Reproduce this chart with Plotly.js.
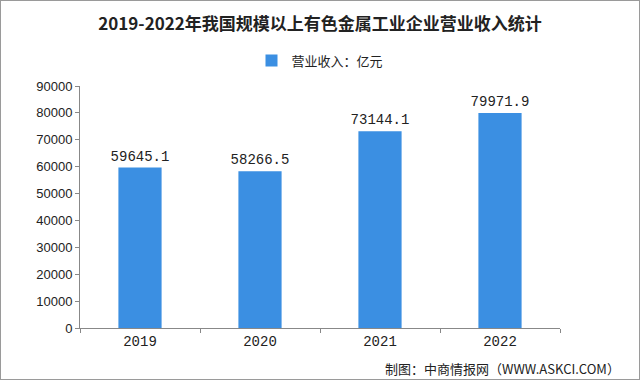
<!DOCTYPE html>
<html><head><meta charset="utf-8">
<script src="https://cdn.plot.ly/plotly-3.0.1.min.js"></script>
<style>html,body{margin:0;padding:0;background:#fff}#chart{width:640px;height:380px;box-sizing:border-box;border:1px solid #9a9a9a}</style>
</head><body><div id="chart"></div>
<script>
const years = ['2019', '2020', '2021', '2022'];
const revenue = [59645.1, 58266.5, 73144.1, 79971.9];
const seriesName = '营业收入：亿元';
const titleText = '2019-2022年我国规模以上有色金属工业企业营业收入统计';
const sourceText = '制图：中商情报网（WWW.ASKCI.COM）';

const trace = {
  type: 'bar', x: years, y: revenue, name: seriesName,
  marker: {color: '#3b8fe2'},
  text: revenue.map(v => v.toFixed(1)), textposition: 'outside', constraintext: 'none',
  textfont: {family: 'Liberation Mono', size: 14, color: '#222'},
  cliponaxis: false
};
const layout = {
  width: 638, height: 378,
  margin: {l: 79, r: 79, t: 85, b: 51},
  paper_bgcolor: '#fff', plot_bgcolor: '#fff',
  title: {text: titleText, x: 0.5, xanchor: 'center', y: 0.94, yanchor: 'middle',
    font: {family: 'Noto Sans CJK SC', size: 17, color: '#222', weight: 'bold'}},
  showlegend: true,
  legend: {orientation: 'h', x: 0.5, xanchor: 'center', y: 1.105, yanchor: 'middle',
    font: {family: 'Noto Sans CJK SC', size: 13, color: '#222'}, itemwidth: 30},
  bargap: 0.64,
  xaxis: {type: 'category', showline: true, linecolor: '#888', ticks: 'outside', ticklen: 4, tickcolor: '#888',
    tickson: 'boundaries', showgrid: false,
    tickfont: {family: 'Liberation Mono', size: 14, color: '#222'}},
  yaxis: {range: [0, 90000], dtick: 10000, showline: true, linecolor: '#888', ticks: 'outside', ticklen: 4,
    tickcolor: '#888', showgrid: false, zeroline: false, tickformat: 'd',
    tickfont: {family: 'Liberation Sans', size: 13, color: '#222'}},
  annotations: [{text: sourceText, xref: 'paper', yref: 'paper', x: 1.13, y: -0.12, xanchor: 'right', yanchor: 'top',
    showarrow: false, font: {family: 'Noto Sans CJK SC', size: 13, color: '#222'}}]
};
Plotly.newPlot('chart', [trace], layout, {displayModeBar: false, staticPlot: true});
</script></body></html>
